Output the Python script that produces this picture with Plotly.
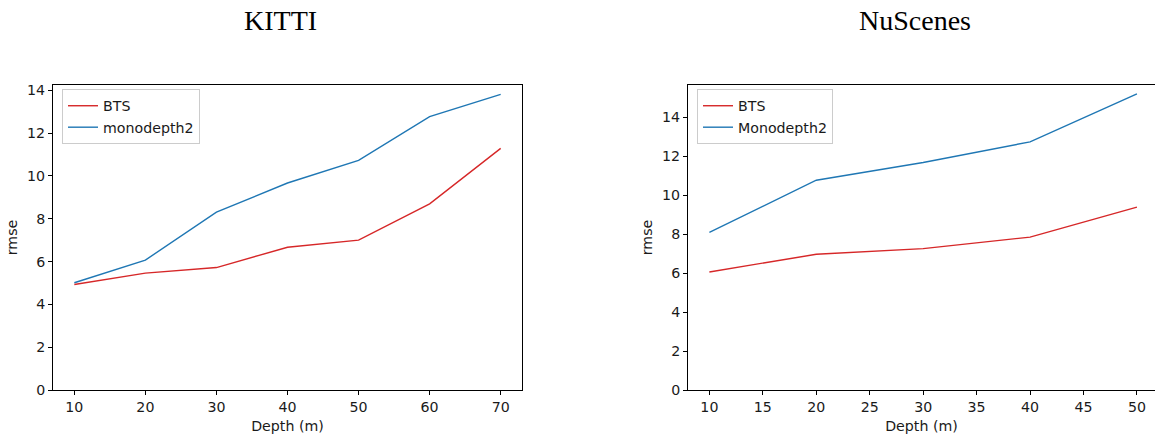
import plotly.graph_objects as go

# KITTI results
kitti_depth = [10, 20, 30, 40, 50, 60, 70]
kitti_bts = [4.93, 5.46, 5.72, 6.67, 7.00, 8.70, 11.29]
kitti_mono = [5.01, 6.07, 8.31, 9.67, 10.73, 12.77, 13.81]

# NuScenes results
nusc_depth = [10, 20, 30, 40, 50]
nusc_bts = [6.06, 6.97, 7.26, 7.85, 9.39]
nusc_mono = [8.09, 10.77, 11.68, 12.74, 15.20]

RED = "#d62728"
BLUE = "#1f77b4"
W, H = 1155, 438
FS = 14.2
TXT = "#1a1a1a"

fig = go.Figure()
fig.add_trace(go.Scatter(x=kitti_depth, y=kitti_bts, mode="lines", name="BTS",
                         line=dict(color=RED, width=1.4), xaxis="x", yaxis="y", legend="legend"))
fig.add_trace(go.Scatter(x=kitti_depth, y=kitti_mono, mode="lines", name="monodepth2",
                         line=dict(color=BLUE, width=1.4), xaxis="x", yaxis="y", legend="legend"))
fig.add_trace(go.Scatter(x=nusc_depth, y=nusc_bts, mode="lines", name="BTS",
                         line=dict(color=RED, width=1.4), xaxis="x2", yaxis="y2", legend="legend2"))
fig.add_trace(go.Scatter(x=nusc_depth, y=nusc_mono, mode="lines", name="Monodepth2",
                         line=dict(color=BLUE, width=1.4), xaxis="x2", yaxis="y2", legend="legend2"))

tickfont = dict(family="DejaVu Sans", size=FS, color=TXT)
labelfont = dict(family="DejaVu Sans", size=FS, color=TXT)
axis_common = dict(showgrid=False, zeroline=False, showline=True, linecolor="black",
                   linewidth=1, ticks="outside", ticklen=4, tickwidth=1, tickcolor="black",
                   tickfont=tickfont, automargin=False)

ydom = [(H - 390) / H, (H - 85) / H]

legend_common = dict(bgcolor="rgba(255,255,255,0.8)", bordercolor="#cccccc", borderwidth=1,
                     font=dict(family="DejaVu Sans", size=FS, color=TXT),
                     xanchor="left", yanchor="top", itemwidth=30, tracegroupgap=0)

fig.update_layout(
    width=W, height=H,
    margin=dict(l=0, r=0, t=0, b=0, autoexpand=False),
    paper_bgcolor="white", plot_bgcolor="white",
    xaxis=dict(domain=[53 / W, 522 / W], range=[7, 73], tickmode="linear", tick0=10, dtick=10,
               mirror=True, anchor="y",
               title=dict(text="Depth (m)", font=labelfont, standoff=7),
               **axis_common),
    yaxis=dict(domain=ydom, range=[0, 14.25], tickmode="linear", tick0=0, dtick=2,
               mirror=True, anchor="x",
               title=dict(text="rmse", font=labelfont, standoff=6),
               **axis_common),
    xaxis2=dict(domain=[688 / W, 1.0], range=[8, 51.69], tickmode="linear", tick0=10, dtick=5,
                mirror=True, anchor="y2",
                title=dict(text="Depth (m)", font=labelfont, standoff=7),
                **axis_common),
    yaxis2=dict(domain=ydom, range=[0, 15.66], tickmode="linear", tick0=0, dtick=2,
                mirror=False, anchor="x2",
                title=dict(text="rmse", font=labelfont, standoff=6),
                **axis_common),
    legend=dict(x=62 / W, y=(H - 89) / H, **legend_common),
    legend2=dict(x=697 / W, y=(H - 89) / H, **legend_common),
    annotations=[
        dict(text="KITTI", x=280 / W, y=(H - 20) / H, xref="paper", yref="paper",
             xanchor="center", yanchor="middle", showarrow=False,
             font=dict(family="Liberation Serif", size=28, color="black")),
        dict(text="NuScenes", x=915 / W, y=(H - 20) / H, xref="paper", yref="paper",
             xanchor="center", yanchor="middle", showarrow=False,
             font=dict(family="Liberation Serif", size=28, color="black")),
    ],
)

fig.write_html("out.html")
